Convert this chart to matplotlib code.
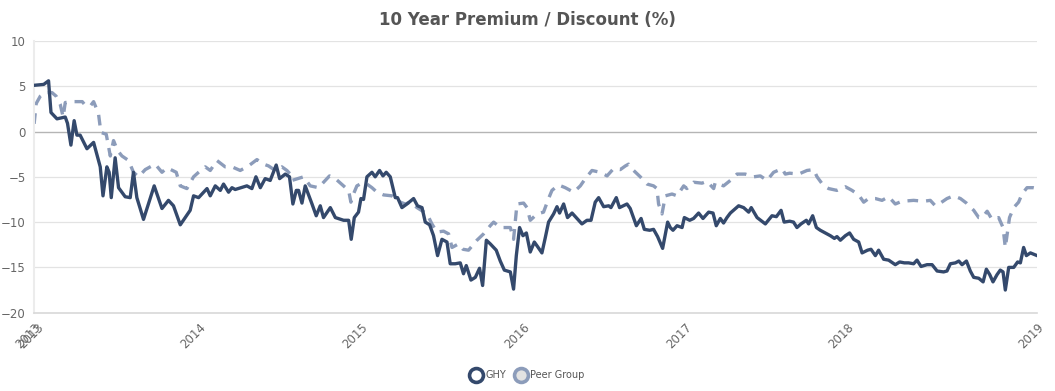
import matplotlib.pyplot as plt
from matplotlib.lines import Line2D

# time in decimal years, values in %
ghy_t = [2012.98, 2013.04, 2013.07, 2013.085, 2013.122, 2013.173, 2013.187, 2013.208, 2013.228,
         2013.245, 2013.265, 2013.307, 2013.348, 2013.378, 2013.389, 2013.406, 2013.43, 2013.444,
         2013.457, 2013.481, 2013.502, 2013.543, 2013.574, 2013.594, 2013.615, 2013.656, 2013.722,
         2013.77, 2013.81, 2013.841, 2013.883, 2013.944, 2013.965, 2013.996, 2014.048, 2014.068,
         2014.099, 2014.13, 2014.15, 2014.181, 2014.202, 2014.222, 2014.294, 2014.325, 2014.35,
         2014.377, 2014.407, 2014.438, 2014.475, 2014.496, 2014.531, 2014.557, 2014.578, 2014.599,
         2014.613, 2014.634, 2014.654, 2014.696, 2014.722, 2014.747, 2014.767, 2014.809, 2014.84,
         2014.891, 2014.922, 2014.938, 2014.957, 2014.983, 2014.998, 2015.014, 2015.035, 2015.066,
         2015.086, 2015.113, 2015.134, 2015.154, 2015.179, 2015.21, 2015.224, 2015.251, 2015.282,
         2015.323, 2015.347, 2015.375, 2015.395, 2015.422, 2015.446, 2015.471, 2015.498, 2015.529,
         2015.549, 2015.58, 2015.611, 2015.631, 2015.648, 2015.677, 2015.704, 2015.73, 2015.749,
         2015.772, 2015.796, 2015.833, 2015.858, 2015.883, 2015.92, 2015.94, 2015.957, 2015.977,
         2015.998, 2016.019, 2016.043, 2016.068, 2016.088, 2016.115, 2016.136, 2016.156, 2016.187,
         2016.208, 2016.224, 2016.249, 2016.273, 2016.301, 2016.362, 2016.393, 2016.418, 2016.444,
         2016.465, 2016.496, 2016.527, 2016.541, 2016.574, 2016.594, 2016.64, 2016.66, 2016.698,
         2016.727, 2016.747, 2016.78, 2016.804, 2016.829, 2016.86, 2016.891, 2016.907, 2016.924,
         2016.949, 2016.98, 2016.994, 2017.027, 2017.051, 2017.082, 2017.109, 2017.144, 2017.171,
         2017.191, 2017.216, 2017.236, 2017.257, 2017.278, 2017.329, 2017.36, 2017.391, 2017.407,
         2017.443, 2017.494, 2017.535, 2017.562, 2017.591, 2017.61, 2017.644, 2017.668, 2017.689,
         2017.714, 2017.747, 2017.761, 2017.786, 2017.809, 2017.833, 2017.875, 2017.895, 2017.92,
         2017.936, 2017.957, 2017.988, 2018.014, 2018.039, 2018.07, 2018.091, 2018.125, 2018.146,
         2018.173, 2018.193, 2018.224, 2018.255, 2018.296, 2018.323, 2018.352, 2018.378, 2018.409,
         2018.43, 2018.455, 2018.492, 2018.523, 2018.554, 2018.594, 2018.615, 2018.636, 2018.667,
         2018.688, 2018.708, 2018.735, 2018.759, 2018.78, 2018.811, 2018.838, 2018.858, 2018.879,
         2018.899, 2018.924, 2018.944, 2018.961, 2018.975, 2018.996, 2019.027, 2019.051, 2019.068,
         2019.088, 2019.105, 2019.13, 2019.171]
ghy_v = [5.1, 5.2, 5.6, 2.1, 1.4, 1.6, 0.9, -1.5, 1.2,
         -0.4, -0.4, -1.9, -1.2, -3.2, -3.9, -7.1, -3.9, -4.5,
         -7.3, -2.9, -6.2, -7.2, -7.3, -4.5, -7.3, -9.7, -6.0,
         -8.5, -7.6, -8.2, -10.3, -8.7, -7.1, -7.3, -6.3, -7.1,
         -6.0, -6.5, -5.8, -6.7, -6.2, -6.4, -6.0, -6.3, -5.0,
         -6.2, -5.2, -5.4, -3.7, -5.2, -4.7, -5.0, -8.0, -6.5,
         -6.5, -7.9, -6.0, -8.0, -9.3, -8.2, -9.5, -8.4, -9.5,
         -9.8, -9.8, -11.9, -9.5, -8.9, -7.4, -7.5, -5.0, -4.5,
         -5.0, -4.3, -4.9, -4.5, -5.0, -7.3, -7.3, -8.4, -8.0,
         -7.4, -8.2, -8.4, -10.0, -10.3, -11.5, -13.7, -11.9, -12.2,
         -14.6, -14.6, -14.5, -15.7, -14.8, -16.4, -16.1, -15.1, -17.0,
         -12.0, -12.4, -13.1, -14.3, -15.3, -15.5, -17.4, -13.7, -10.6,
         -11.5, -11.2, -13.3, -12.2, -12.7, -13.4, -11.7, -10.0, -9.1,
         -8.3, -9.0, -8.0, -9.5, -9.0, -10.2, -9.8, -9.8, -7.8,
         -7.3, -8.3, -8.2, -8.4, -7.3, -8.4, -8.0, -8.5, -10.4,
         -9.6, -10.8, -10.9, -10.8, -11.6, -12.9, -10.0, -10.6, -10.9,
         -10.4, -10.6, -9.5, -9.8, -9.6, -9.0, -9.6, -8.9, -9.0,
         -10.4, -9.6, -10.1, -9.5, -9.0, -8.2, -8.4, -8.9, -8.4,
         -9.5, -10.2, -9.3, -9.4, -8.7, -10.0, -9.9, -10.0, -10.6,
         -10.2, -9.8, -10.2, -9.3, -10.6, -10.9, -11.3, -11.5, -11.8,
         -11.6, -12.0, -11.5, -11.2, -11.9, -12.2, -13.4, -13.1, -13.0,
         -13.7, -13.1, -14.1, -14.2, -14.7, -14.4, -14.5, -14.5, -14.6,
         -14.2, -14.9, -14.7, -14.7, -15.4, -15.5, -15.4, -14.6, -14.5,
         -14.3, -14.7, -14.3, -15.4, -16.1, -16.2, -16.6, -15.2, -15.8,
         -16.6, -15.8, -15.3, -15.5, -17.5, -15.0, -15.0, -14.4, -14.5,
         -12.8, -13.7, -13.4, -13.7]

peer_t = [2012.981, 2012.994, 2013.019, 2013.049, 2013.091, 2013.117, 2013.142, 2013.16, 2013.173,
          2013.222, 2013.278, 2013.296, 2013.327, 2013.348, 2013.378, 2013.393, 2013.426, 2013.451,
          2013.471, 2013.496, 2013.523, 2013.564, 2013.594, 2013.625, 2013.667, 2013.708, 2013.728,
          2013.77, 2013.801, 2013.858, 2013.883, 2013.924, 2013.965, 2013.996, 2014.037, 2014.068,
          2014.109, 2014.16, 2014.202, 2014.253, 2014.304, 2014.356, 2014.397, 2014.428, 2014.469,
          2014.51, 2014.541, 2014.562, 2014.572, 2014.644, 2014.685, 2014.736, 2014.757, 2014.804,
          2014.84, 2014.891, 2014.922, 2014.936, 2014.952, 2014.973, 2015.004, 2015.035, 2015.066,
          2015.097, 2015.138, 2015.19, 2015.241, 2015.272, 2015.302, 2015.344, 2015.406, 2015.436,
          2015.467, 2015.508, 2015.539, 2015.56, 2015.601, 2015.628, 2015.662, 2015.714, 2015.755,
          2015.796, 2015.817, 2015.858, 2015.92, 2015.94, 2015.961, 2016.002, 2016.023, 2016.043,
          2016.085, 2016.125, 2016.156, 2016.177, 2016.218, 2016.259, 2016.311, 2016.352, 2016.383,
          2016.424, 2016.475, 2016.517, 2016.557, 2016.599, 2016.63, 2016.65, 2016.681, 2016.722,
          2016.764, 2016.804, 2016.825, 2016.835, 2016.856, 2016.877, 2016.918, 2016.949, 2016.99,
          2017.01, 2017.051, 2017.103, 2017.134, 2017.175, 2017.185, 2017.236, 2017.278, 2017.319,
          2017.37, 2017.422, 2017.463, 2017.504, 2017.545, 2017.597, 2017.617, 2017.644, 2017.699,
          2017.751, 2017.792, 2017.813, 2017.854, 2017.885, 2017.936, 2017.988, 2018.029, 2018.07,
          2018.101, 2018.131, 2018.173, 2018.214, 2018.255, 2018.296, 2018.337, 2018.409, 2018.471,
          2018.512, 2018.543, 2018.574, 2018.615, 2018.656, 2018.698, 2018.735, 2018.78, 2018.811,
          2018.832, 2018.863, 2018.893, 2018.934, 2018.961, 2018.975, 2019.001, 2019.027, 2019.057,
          2019.078, 2019.109, 2019.146, 2019.171]
peer_v = [0.85, 3.1, 3.9, 4.3, 4.3, 3.9, 3.0, 1.6, 3.2,
          3.3, 3.3, 2.9, 2.8, 3.3, 2.0, -0.1, -0.3, -2.7,
          -1.0, -2.1, -2.7, -3.2, -4.5, -5.0, -4.2, -3.8, -3.6,
          -4.5, -4.0, -4.5, -6.0, -6.3, -5.0, -4.5, -3.9, -4.3,
          -3.2, -3.9, -3.9, -4.3, -3.8, -3.1, -3.6, -3.8, -4.3,
          -3.9, -4.3, -4.7, -5.4, -5.0, -6.0, -6.2, -5.8, -4.9,
          -5.2, -6.0, -6.5, -7.8, -6.9, -6.0, -5.7, -5.8, -6.2,
          -6.7, -7.0, -7.1, -7.8, -8.0, -7.8, -8.4, -9.1, -10.2,
          -11.1, -11.0, -11.3, -12.8, -12.4, -13.0, -13.1, -12.0, -11.3,
          -10.4, -10.0, -10.6, -10.6, -11.9, -8.0, -7.9, -8.4, -9.8,
          -9.1, -8.9, -7.4, -6.5, -5.9, -6.2, -6.7, -6.0, -5.2,
          -4.3, -4.5, -4.9, -4.1, -4.2, -3.8, -3.6, -4.3, -5.0,
          -5.8, -6.0, -6.3, -8.0, -9.1, -7.1, -6.9, -7.1, -6.0,
          -6.3, -5.6, -5.7, -5.5, -6.3, -5.6, -6.0, -5.4, -4.7,
          -4.7, -5.0, -4.9, -5.4, -4.5, -4.1, -4.7, -4.6, -4.7,
          -4.3, -4.2, -5.0, -6.0, -6.3, -6.5, -6.1, -6.5, -7.0,
          -7.8, -7.4, -7.4, -7.6, -7.2, -8.0, -7.7, -7.6, -7.7,
          -7.6, -8.2, -7.9, -7.4, -7.1, -7.4, -7.9, -8.7, -9.5,
          -9.5, -8.8, -9.7, -9.5, -10.6, -12.8, -9.5, -8.4, -7.8,
          -6.9, -6.2, -6.2, -6.3]

year_ticks = [2012.98, 2013.0, 2014.0, 2015.0, 2016.0, 2017.0, 2018.0, 2019.171]
year_labels = ['2013', '2013', '2014', '2015', '2016', '2017', '2018', '2019']

navy = '#34496c'
peer_col = '#8c9cba'
txt = '#666666'

fig = plt.figure(figsize=(10.55, 3.91), dpi=100)
ax = fig.add_axes([0.0322, 0.2003, 0.9508, 0.695])

ax.plot(peer_t, peer_v, color=peer_col, lw=2.4, ls=(0, (3.2, 2.4)), solid_capstyle='butt', zorder=2)
ax.plot(ghy_t, ghy_v, color=navy, lw=2.4, solid_joinstyle='round', zorder=3)

ax.set_xlim(2012.98, 2019.171)
ax.set_ylim(-20, 10)
ax.set_yticks([10, 5, 0, -5, -10, -15, -20])
for yv in [10, 5, -5, -10, -15]:
    ax.axhline(yv, color='#e3e3e3', lw=0.9, zorder=0)
ax.axhline(0, color='#b5b5b5', lw=1.0, zorder=1)

for s in ['top', 'right']:
    ax.spines[s].set_visible(False)
ax.spines['left'].set_color('#ececec')
ax.spines['left'].set_linewidth(1.5)
ax.spines['bottom'].set_color('#d8d8d8')
ax.spines['bottom'].set_linewidth(1.2)

ax.tick_params(axis='both', length=0, colors=txt, labelsize=8.5)
ax.tick_params(axis='y', pad=6)
ax.set_xticks(year_ticks)
ax.set_xticklabels(year_labels, rotation=45, ha='right', rotation_mode='anchor')
ax.tick_params(axis='x', pad=6)

fig.text(0.5, 0.948, '10 Year Premium / Discount (%)', ha='center', va='center',
         fontsize=12, fontweight='bold', color='#555555')

handles = [Line2D([], [], ls='none', marker='o', markersize=10, markerfacecolor='white',
                  markeredgecolor=navy, markeredgewidth=2.6),
           Line2D([], [], ls='none', marker='o', markersize=10, markerfacecolor='#e2e2e2',
                  markeredgecolor=peer_col, markeredgewidth=2.6)]
fig.legend(handles, ['GHY', 'Peer Group'], loc='center', bbox_to_anchor=(0.5, 0.04),
           ncol=2, frameon=False, fontsize=7, labelcolor='#555555',
           handletextpad=0.3, columnspacing=1.0, handlelength=1.2)

fig.savefig('out.png', dpi=100)
